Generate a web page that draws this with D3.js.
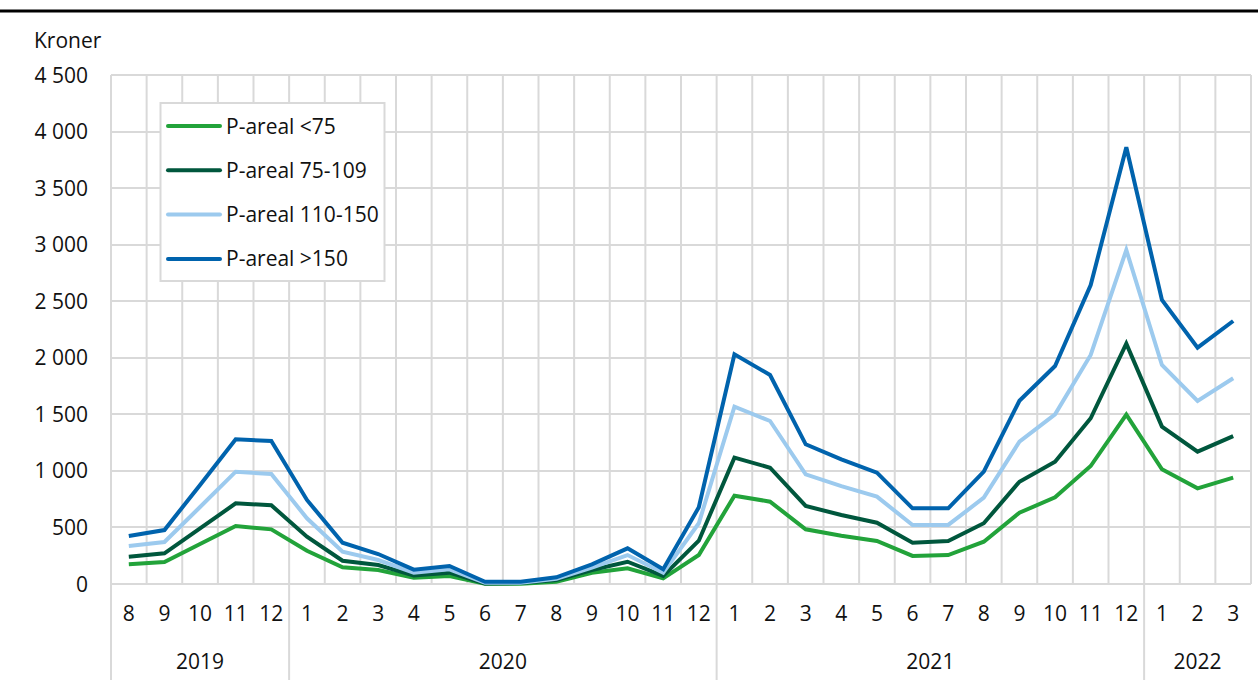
<!DOCTYPE html>
<html>
<head>
<meta charset="utf-8">
<script src="https://cdn.jsdelivr.net/npm/d3@7"></script>
<style>
  html, body { margin: 0; padding: 0; background: #fff; }
  svg { display: block; font-family: "Open Sans", "Noto Sans", sans-serif; }
</style>
</head>
<body>
<svg id="chart" width="1258" height="680"></svg>
<script>
// ---- data ----
const months = ["8","9","10","11","12","1","2","3","4","5","6","7","8","9","10","11","12","1","2","3","4","5","6","7","8","9","10","11","12","1","2","3"];
const years = ["2019","2020","2021","2022"];
const yearCounts = [5, 12, 12, 3];
const seriesNames = ["P-areal <75", "P-areal 75-109", "P-areal 110-150", "P-areal >150"];
const seriesColors = ["#22a33a", "#00573d", "#9ccaee", "#0063ad"];
const areal_lt75 = [174,194,353,513,483,294,148,124,55,71,2,3,20,100,139,50,256,781,728,484,427,380,248,256,374,630,766,1043,1497,1014,846,940];
const areal_75_109 = [241,271,491,713,696,418,206,168,75,100,5,8,35,124,197,71,383,1117,1028,690,610,542,365,380,537,904,1081,1465,2125,1391,1170,1308];
const areal_110_150 = [336,371,681,993,972,581,286,212,100,130,10,12,47,144,256,100,537,1568,1441,970,866,772,522,522,763,1258,1500,2025,2953,1936,1618,1819];
const areal_gt150 = [424,477,876,1279,1264,743,365,265,127,159,20,20,59,174,315,130,678,2031,1848,1235,1102,984,669,669,993,1620,1927,2643,3861,2511,2089,2325];
const yTicks = [0,500,1000,1500,2000,2500,3000,3500,4000,4500];
const yUnit = "Kroner";

const allSeries = [areal_lt75, areal_75_109, areal_110_150, areal_gt150];

// ---- layout ----
const svg = d3.select("#chart");
const pLeft = 111, pRight = 1251, pTop = 75, pBottom = 584;
const gridColor = "#d9d9d9";
const fs = 21;
const txt = "#111";

const x = d3.scaleBand().domain(d3.range(months.length)).range([pLeft, pRight]).paddingInner(0).paddingOuter(0);
const y = d3.scaleLinear().domain([0, 4500]).range([pBottom, pTop]);
const fmt = v => d3.format(",")(v).replace(/,/g, "\u00a0");

// top black rule
svg.append("rect").attr("x", 0).attr("y", 9.5).attr("width", 1258).attr("height", 3).attr("fill", "#000");

// horizontal grid
svg.append("g").selectAll("line").data(yTicks).join("line")
  .attr("x1", pLeft).attr("x2", pRight)
  .attr("y1", d => Math.round(y(d))).attr("y2", d => Math.round(y(d)))
  .attr("stroke", gridColor).attr("stroke-width", 2);

// vertical grid (band boundaries)
const bounds = d3.range(months.length + 1).map(i => i < months.length ? x(i) : pRight);
svg.append("g").selectAll("line").data(bounds).join("line")
  .attr("x1", d => d).attr("x2", d => d)
  .attr("y1", pTop).attr("y2", pBottom)
  .attr("stroke", gridColor).attr("stroke-width", 2);

// year dividers extending below
let cum = 0;
const yearStarts = yearCounts.map(c => { const s = cum; cum += c; return s; });
svg.append("g").selectAll("line").data(yearStarts).join("line")
  .attr("x1", d => x(d)).attr("x2", d => x(d))
  .attr("y1", pBottom).attr("y2", 680)
  .attr("stroke", gridColor).attr("stroke-width", 2);

// y tick labels
svg.append("g").selectAll("text").data(yTicks).join("text")
  .attr("x", 88).attr("y", d => y(d) + 7.5)
  .attr("text-anchor", "end").attr("font-size", fs).attr("fill", txt)
  .text(fmt);

svg.append("text").attr("x", 34).attr("y", 48).attr("font-size", fs).attr("fill", txt).text(yUnit);

// month labels
svg.append("g").selectAll("text").data(months).join("text")
  .attr("x", (d, i) => x(i) + x.bandwidth() / 2).attr("y", 620.5)
  .attr("text-anchor", "middle").attr("font-size", fs).attr("fill", txt)
  .text(d => d);

// year labels
svg.append("g").selectAll("text").data(years).join("text")
  .attr("x", (d, i) => (x(yearStarts[i]) + (i < years.length - 1 ? x(yearStarts[i + 1]) : pRight)) / 2)
  .attr("y", 668.5)
  .attr("text-anchor", "middle").attr("font-size", fs).attr("fill", txt)
  .text(d => d);

// lines
const line = d3.line().x((d, i) => x(i) + x.bandwidth() / 2).y(d => y(d));
svg.append("g").selectAll("path").data(allSeries).join("path")
  .attr("d", line)
  .attr("fill", "none")
  .attr("stroke", (d, i) => seriesColors[i])
  .attr("stroke-width", 4)
  .attr("stroke-linejoin", "miter");

// legend
const lg = svg.append("g");
lg.append("rect").attr("x", 160.5).attr("y", 103).attr("width", 224).attr("height", 178)
  .attr("fill", "#fff").attr("stroke", gridColor).attr("stroke-width", 2);
const rows = lg.selectAll("g").data(seriesNames).join("g")
  .attr("transform", (d, i) => `translate(0, ${126 + i * 44.3})`);
rows.append("line").attr("x1", 168).attr("x2", 220).attr("y1", 0).attr("y2", 0)
  .attr("stroke", (d, i) => seriesColors[i]).attr("stroke-width", 4).attr("stroke-linecap", "round");
rows.append("text").attr("x", 226).attr("y", 7.5).attr("font-size", fs).attr("fill", txt).text(d => d);
</script>
</body>
</html>
